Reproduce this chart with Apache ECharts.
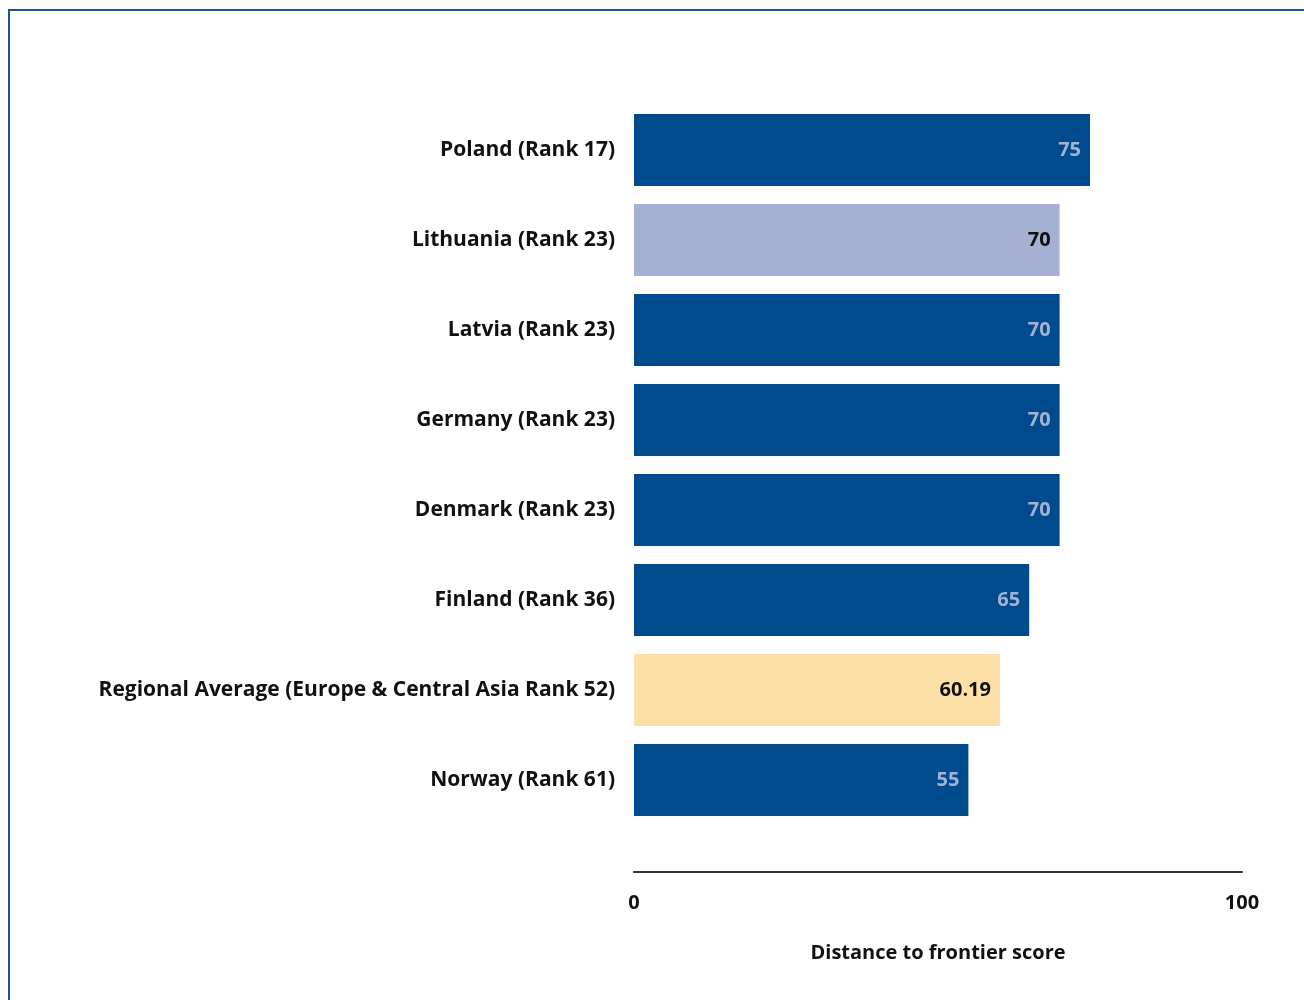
<!DOCTYPE html>
<html>
<head>
<meta charset="utf-8">
<script src="https://cdn.jsdelivr.net/npm/echarts@6/dist/echarts.min.js"></script>
<style>
	html,body{margin:0;padding:0;background:#fff;overflow:hidden;}
	#frame{position:absolute;left:8px;top:9px;width:1400px;height:1100px;border-left:2px solid #1d5196;border-top:2px solid #1d5196;}
	#main{position:absolute;left:0;top:0;width:1304px;height:1000px;}
</style>
</head>
<body>
<div id="frame"></div>
<div id="main"></div>
<script>
	// categories, top to bottom
	var economies = [
		'Poland (Rank 17)',
		'Lithuania (Rank 23)',
		'Latvia (Rank 23)',
		'Germany (Rank 23)',
		'Denmark (Rank 23)',
		'Finland (Rank 36)',
		'Regional Average (Europe & Central Asia Rank 52)',
		'Norway (Rank 61)'
	];
	var scores = [75, 70, 70, 70, 70, 65, 60.19, 55];
	var focusEconomy = 'Lithuania (Rank 23)';
	var averageName = 'Regional Average (Europe & Central Asia Rank 52)';
	var axisTicks = [0, 100];

	var fontFam = '"Open Sans", "Noto Sans", sans-serif';

	var barData = economies.map(function(name, i){
		var item = {value: scores[i]};
		if(name === focusEconomy){
			item.itemStyle = {color: '#a5b1d3'};
			item.label = {color: '#111'};
		}else if(name === averageName){
			item.itemStyle = {color: '#fde0a8'};
			item.label = {color: '#111'};
		}
		return item;
	});

	var myChart = echarts.init(document.getElementById('main'));
	var option = {
		animation: false,
		grid: {left: 634, right: 62, top: 105, height: 720},
		xAxis: {
			type: 'value',
			min: axisTicks[0],
			max: axisTicks[1],
			interval: axisTicks[1] - axisTicks[0],
			position: 'bottom',
			offset: 47,
			splitLine: {show: false},
			axisTick: {show: false},
			axisLine: {show: true, lineStyle: {color: '#333', width: 2}},
			axisLabel: {color: '#111', fontFamily: fontFam, fontWeight: 700, fontSize: 20, margin: 21},
			name: 'Distance to frontier score',
			nameLocation: 'middle',
			nameGap: 71,
			nameTextStyle: {color: '#111', fontFamily: fontFam, fontWeight: 700, fontSize: 20}
		},
		yAxis: {
			type: 'category',
			inverse: true,
			data: economies,
			axisLine: {show: false},
			axisTick: {show: false},
			axisLabel: {color: '#111', fontFamily: fontFam, fontWeight: 700, fontSize: 21, margin: 19, padding: [8, 0, 0, 0]}
		},
		series: [{
			type: 'bar',
			data: barData,
			barWidth: 72,
			itemStyle: {color: '#004b8d'},
			label: {
				show: true,
				position: 'insideRight',
				distance: 9,
				color: '#a5b1d3',
				fontFamily: fontFam,
				fontWeight: 700,
				fontSize: 20,
				padding: [5, 0, 0, 0]
			}
		}]
	};
	myChart.setOption(option);
</script>
</body>
</html>
